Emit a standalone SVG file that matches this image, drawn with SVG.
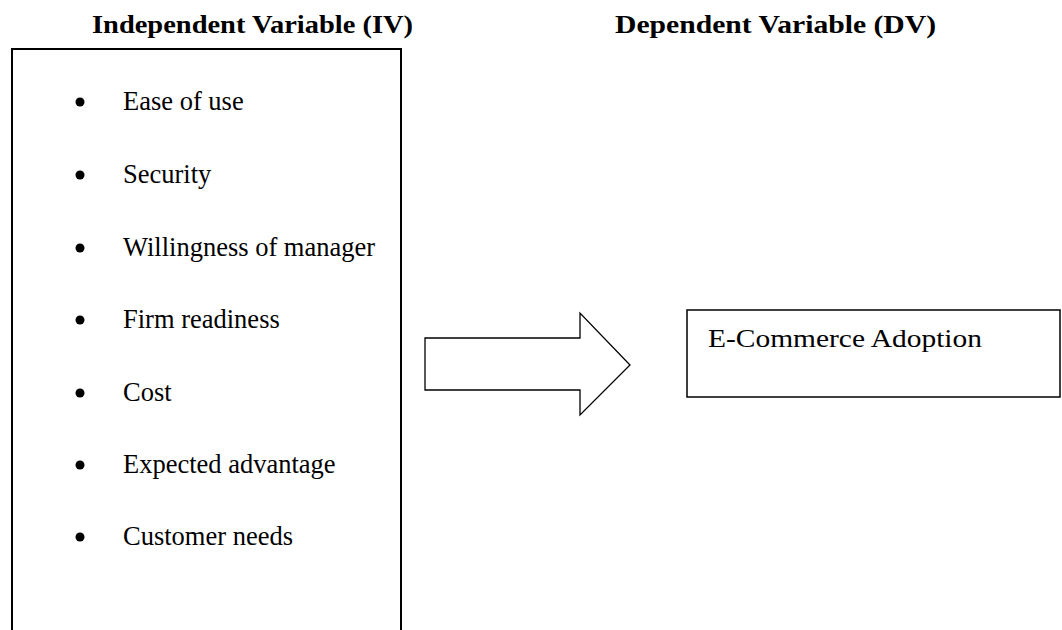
<svg xmlns="http://www.w3.org/2000/svg" width="1062" height="630" viewBox="0 0 1062 630">
<style>
.title{font-family:"Liberation Serif","DejaVu Serif",serif;font-weight:bold;font-size:25px;fill:#000}
.item{font-family:"Liberation Serif",serif;font-size:26.5px;fill:#000}
.label{font-family:"Liberation Serif","DejaVu Serif",serif;font-size:25px;fill:#000}
.box{fill:none;stroke:#000;stroke-width:2}
.thin{fill:#fff;stroke:#000;stroke-width:1.3}
</style>
<rect width="1062" height="630" fill="#fff"/>
<g id="iv-title"><text class="title" x="92" y="33" textLength="321" lengthAdjust="spacingAndGlyphs">Independent Variable (IV)</text></g>
<g id="dv-title"><text class="title" x="615" y="33" textLength="321" lengthAdjust="spacingAndGlyphs">Dependent Variable (DV)</text></g>
<g id="iv-box">
<path class="box" d="M12,632 V49 H401 V632"/>
<g>
<circle cx="80" cy="102" r="4.5"/><text class="item" x="123" y="110">Ease of use</text>
<circle cx="80" cy="175" r="4.5"/><text class="item" x="123" y="183">Security</text>
<circle cx="80" cy="248" r="4.5"/><text class="item" x="123" y="256">Willingness of manager</text>
<circle cx="80" cy="320" r="4.5"/><text class="item" x="123" y="328">Firm readiness</text>
<circle cx="80" cy="393" r="4.5"/><text class="item" x="123" y="401">Cost</text>
<circle cx="80" cy="465" r="4.5"/><text class="item" x="123" y="473">Expected advantage</text>
<circle cx="80" cy="537" r="4.5"/><text class="item" x="123" y="545">Customer needs</text>
</g>
</g>
<g id="connectors">
<polygon class="thin" points="425,338 580,338 580,313 630,365 580,415 580,390 425,390"/>
</g>
<g id="dv-box">
<rect x="687" y="310" width="373" height="87" fill="none" stroke="#000" stroke-width="1.5"/>
<text class="label" x="708" y="347" textLength="274" lengthAdjust="spacingAndGlyphs">E-Commerce Adoption</text>
</g>
</svg>
